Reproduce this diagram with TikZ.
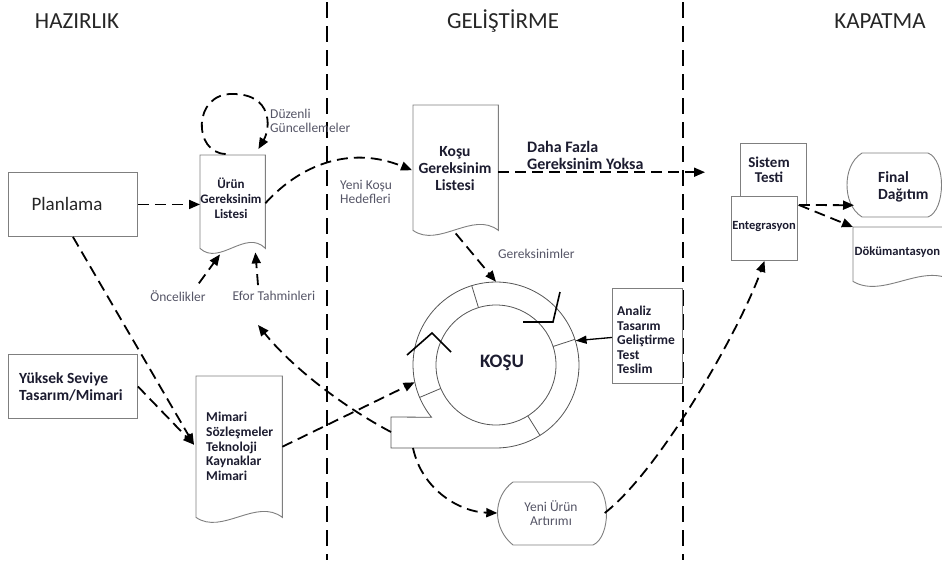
\documentclass[tikz,border=0pt]{standalone}
\usepackage{fontspec}
\setmainfont{Carlito}
\usetikzlibrary{arrows.meta,calc}
\definecolor{txt}{HTML}{1C1C30}
\definecolor{lblc}{HTML}{555566}
\definecolor{edgec}{HTML}{7F7F7F}
\definecolor{ringc}{HTML}{555555}
\tikzset{
 conn/.style={line width=1.8pt, dash pattern=on 11pt off 6pt, -{Triangle[length=11pt,width=9pt]}},
 solidarrow/.style={line width=1.3pt, -{Triangle[length=11pt,width=8pt]}},
 divider/.style={line width=2.2pt, dash pattern=on 16pt off 8pt},
 boxsh/.style={draw=edgec, line width=0.9pt, fill=white, inner sep=0pt, anchor=north west},
 docsh/.style={draw=edgec, line width=0.9pt, fill=white},
 anch/.style={inner sep=0pt, anchor=north west},
 btxt/.style={font=\bfseries\fontsize{14}{15}\selectfont, text=txt, inner sep=0pt},
 glbl/.style={font=\fontsize{13.5}{14.5}\selectfont, text=lblc, inner sep=0pt},
 title/.style={font=\fontsize{23}{26}\selectfont, text=black!85},
 ringl/.style={draw=ringc, line width=0.8pt},
 chev/.style={draw=black, line width=1.6pt},
}
\newcommand\docdraw[1]{\draw[docsh] (#1.north west) -- (#1.north east) -- (#1.south east)
  .. controls ($(#1.south west)!0.7!(#1.south east)+(0,-20)$) and ($(#1.south west)!0.3!(#1.south east)+(0,18)$) .. (#1.south west) -- cycle;}
\begin{document}
\begin{tikzpicture}[x=1pt,y=-1pt]
\useasboundingbox (0,0) rectangle (942,560);
\clip (0,0) rectangle (942,560);

% phase dividers
\coordinate (d1t) at (327,2); \coordinate (d1b) at (327,560);
\coordinate (d2t) at (683,2); \coordinate (d2b) at (683,560);
\draw[divider] (d1t) -- (d1b);
\draw[divider] (d2t) -- (d2b);

% titles
\node[title] (t1) at (77,21) {HAZIRLIK};
\node[title] (t2) at (503,21) {GELİŞTİRME};
\node[title] (t3) at (880,21) {KAPATMA};

% Planlama
\node[boxsh, minimum width=129pt, minimum height=64pt] (plan) at (8,172) {};
\node[font=\fontsize{19}{22}\selectfont, text=black!85] (plant) at (67,204) {Planlama};

% Urun Gereksinim Listesi
\node[anch, minimum width=65pt, minimum height=93pt] (urun) at (200,155) {};
\docdraw{urun}
\node[btxt, font=\bfseries\fontsize{13}{15}\selectfont, align=center] (urunt) at (231,198) {Ürün\\Gereksinim\\Listesi};

% self loop
\coordinate (lc) at ($(urun.north)+(0,-32)$);
\draw[conn] ($(urun.north)+(-7,-1)$) .. controls ($(lc)+(-40,30)$) and ($(lc)+(-40,-30)$) .. ($(lc)+(0,-29)$)
  .. controls ($(lc)+(40,-29)$) and ($(lc)+(38,5)$) .. ($(urun.north east)+(-7,-6)$);
\node[glbl, anchor=west, align=left] (duz) at (270,121) {Düzenli\\Güncellemeler};

\draw[conn] (plan.east) -- (urun.west |- plan.east);

\node[glbl] (onc) at (178,296) {Öncelikler};
\node[glbl] (efor) at (274,296) {Efor Tahminleri};
\draw[conn] ($(onc.north east)+(-7,-7)$) -- ($(urun.south west)+(20,6)$);
\draw[conn] ($(efor.north)+(-16,-6)$) -- ($(urun.south east)+(-10,4)$);

% Kosu Gereksinim Listesi
\node[anch, minimum width=85pt, minimum height=125pt] (kgl) at (413,105) {};
\docdraw{kgl}
\node[btxt, font=\bfseries\fontsize{15.5}{17}\selectfont, align=center] (kglt) at (455,169) {Koşu\\Gereksinim\\Listesi};

\draw[conn] ($(urun.east)+(0,1.5)$) .. controls (300,165) and (350,145) .. ($(kgl.west)+(-1,2.5)$);
\node[glbl, anchor=west, align=left] (yeni) at (340,192) {Yeni Koşu\\Hedefleri};

\node[btxt, font=\bfseries\fontsize{16}{17}\selectfont, anchor=west, align=left] (daha) at (527,155) {Daha Fazla\\Gereksinim Yoksa};

% Sistem Testi / Entegrasyon
\node[boxsh, minimum width=66pt, minimum height=62pt] (sis) at (740,143) {};
\node[btxt, font=\bfseries\fontsize{15}{15.5}\selectfont, align=center] (sist) at (769,170) {Sistem\\Testi};
\node[boxsh, minimum width=66pt, minimum height=64pt] (ent) at (731,196) {};
\node[btxt, font=\bfseries\fontsize{12.5}{14}\selectfont] (entt) at (764,227) {Entegrasyon};

\draw[conn] ($(kgl.east)+(0,4.5)$) -- ($(sis.west |- kgl.east)+(-35,4.5)$);

% Ring (KOSU)
\coordinate (C) at (496,365);
\node[circle, inner sep=0pt, minimum size=166pt] (ring) at (C) {};
\draw[ringl] plot[domain=141:450, samples=90] ({496+83*cos(\x)},{365+83*sin(\x)}) -- (391,448) -- (391,417) -- cycle;
\draw[ringl] (C) circle[radius=60pt];
\foreach \a in {253,342,58,157} \draw[ringl] ($(C)+(\a:60)$) -- ($(C)+(\a:83)$);
\draw[chev] (523,322) -- (553,322) -- (560,292);
\draw[chev] (407,355) -- (432,333) -- (451,352);
\node[btxt, font=\bfseries\fontsize{19}{22}\selectfont] (kosut) at (502,363) {KOŞU};

\draw[conn] ($(kgl.south)+(0,3)$) -- (ring.north);
\node[glbl, anchor=west] (ger) at (498,254) {Gereksinimler};

% Analiz box
\node[boxsh, minimum width=70pt, minimum height=95pt] (anl) at (612,288) {};
\node[btxt, font=\bfseries\fontsize{13.5}{14.5}\selectfont, anchor=west, align=left] (anlt) at (617,340) {Analiz\\Tasarım\\Geliştirme\\Test\\Teslim};
\draw[solidarrow] ($(anl.west)+(0,1.5)$) -- (ring.17);

% Yuksek Seviye
\node[boxsh, minimum width=129pt, minimum height=64pt] (yuk) at (8,354) {};
\node[btxt, font=\bfseries\fontsize{15.5}{17}\selectfont, anchor=west, align=left] (yukt) at (19,386.5) {Yüksek Seviye\\Tasarım/Mimari};

% Mimari doc
\node[anch, minimum width=86pt, minimum height=141pt] (mim) at (196,376) {};
\docdraw{mim}
\node[btxt, font=\bfseries\fontsize{13.5}{14.8}\selectfont, anchor=west, align=left] (mimt) at (206,446.5) {Mimari\\Sözleşmeler\\Teknoloji\\Kaynaklar\\Mimari};

\coordinate (mimin) at ($(mim.west)+(-2,-2)$);
\draw[conn] (plan.south) -- (mimin);
\draw[conn] (yuk.east) -- (mimin);
\draw[conn] (mim.east) -- (ring.192);

% Yeni Urun Artirimi
\draw[docsh] (513,482) -- (593,482) .. controls (611,490) and (611,537) .. (593,545) -- (513,545)
  .. controls (503,537) and (497.5,525) .. (497.5,513) .. controls (497.5,501) and (503,489) .. (513,482);
\node[glbl, align=center, minimum width=107pt, minimum height=63pt] (yua) at (551,513) {Yeni Ürün\\Artırımı};

% tail connectors
\coordinate (tailw) at (391,432);
\coordinate (tailb) at (413,448);
\coordinate (effend) at ($(efor.south)+(-16,24)$);
\draw[conn] (tailw) .. controls (340,405) and (290,365) .. (effend);
\draw[conn] (tailb) .. controls (422,490) and (460,512) .. (yua.west);
\draw[conn] (yua.east) .. controls (660,470) and (740,330) .. (ent.south);

% Final Dagitim
\node[anch, minimum width=98pt, minimum height=64pt] (fin) at (847,153) {};
\draw[docsh] (862,153) -- (928,153) .. controls (946,160) and (946,210) .. (928,217) -- (862,217)
  .. controls (851,210) and (847,197) .. (847,185) .. controls (847,173) and (851,160) .. (862,153);
\node[btxt, font=\bfseries\fontsize{15.5}{17}\selectfont, anchor=west, align=left] (fint) at (878,186.5) {Final\\Dağıtım};

% Dokumantasyon
\node[anch, minimum width=100pt, minimum height=54pt] (dok) at (853,227) {};
\docdraw{dok}
\node[btxt, font=\bfseries\fontsize{12.6}{15}\selectfont, anchor=west] (dokt) at (854.5,252) {Dökümantasyon};

\coordinate (entout) at ($(ent.north east)+(1,9)$);
\draw[conn] (entout) -- ($(fin.west)+(7,20)$);
\draw[conn] (entout) -- (dok.north west);
\end{tikzpicture}
\end{document}
